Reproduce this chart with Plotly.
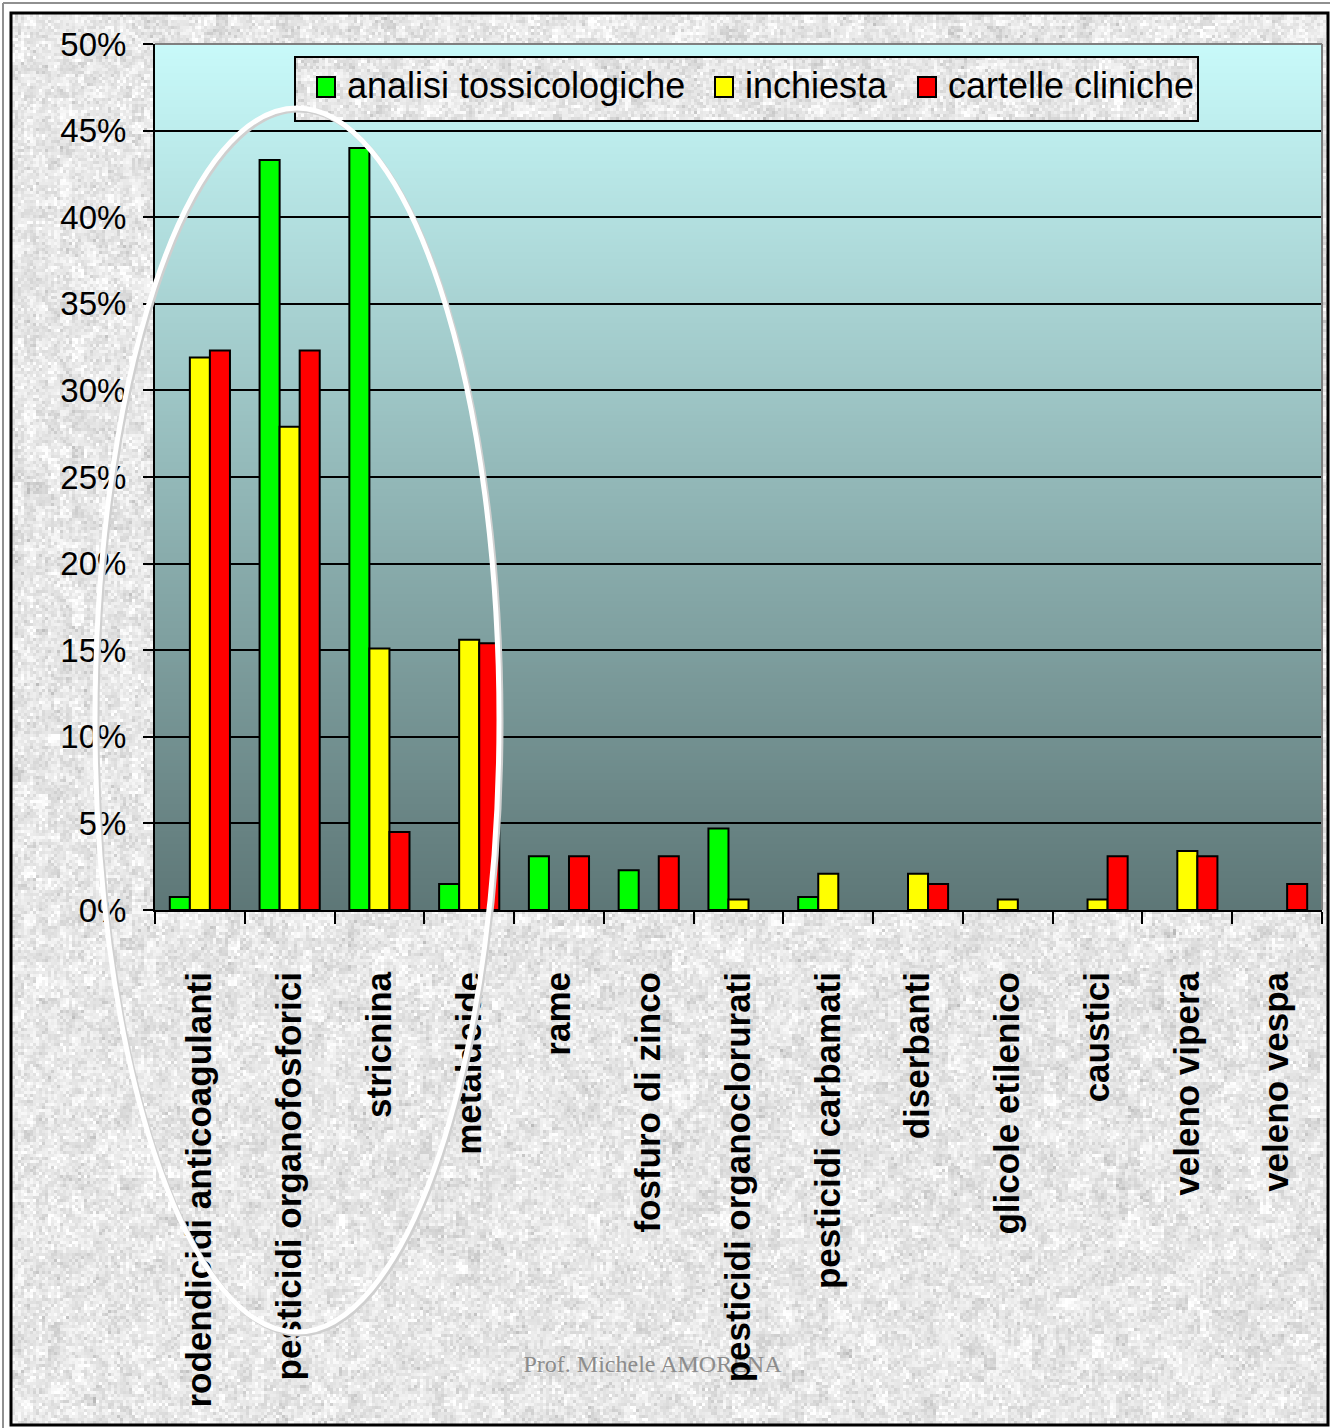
import base64
import struct
import zlib

import numpy as np
import plotly.graph_objects as go

# ---- data (percent of cases per toxic agent, by source) ----
categories = [
    "rodendicidi anticoagulanti", "pesticidi organofosforici", "stricnina",
    "metaldeide", "rame", "fosfuro di zinco", "pesticidi organoclorurati",
    "pesticidi carbamati", "diserbanti", "glicole etilenico", "caustici",
    "veleno vipera", "veleno vespa",
]
analisi_tossicologiche = [0.75, 43.3, 44.0, 1.5, 3.1, 2.3, 4.7, 0.75, 0, 0, 0, 0, 0]
inchiesta = [31.9, 27.9, 15.1, 15.6, 0, 0, 0.6, 2.1, 2.1, 0.6, 0.6, 3.4, 0]
cartelle_cliniche = [32.3, 32.3, 4.5, 15.4, 3.1, 3.1, 0, 0, 1.5, 0, 3.1, 3.1, 1.5]
series_names = ["analisi tossicologiche", "inchiesta", "cartelle cliniche"]
y_ticks = [0, 5, 10, 15, 20, 25, 30, 35, 40, 45, 50]

W, H = 1330, 1428
PL, PR, PT, PB = 155, 1322, 44, 910  # plot area in page pixels


def px(x):
    return (x - PL) / (PR - PL)


def py(y):
    return (PB - y) / (PB - PT)


def png_uri(arr):
    arr = np.ascontiguousarray(arr, dtype=np.uint8)
    h, w = arr.shape[:2]
    ctype = 0 if arr.ndim == 2 else 2
    raw = b"".join(b"\x00" + arr[i].tobytes() for i in range(h))

    def chunk(tag, data):
        c = struct.pack(">I", len(data)) + tag + data
        return c + struct.pack(">I", zlib.crc32(tag + data) & 0xFFFFFFFF)

    png = (b"\x89PNG\r\n\x1a\n"
           + chunk(b"IHDR", struct.pack(">IIBBBBB", w, h, 8, ctype, 0, 0, 0))
           + chunk(b"IDAT", zlib.compress(raw, 9))
           + chunk(b"IEND", b""))
    return "data:image/png;base64," + base64.b64encode(png).decode()


def granite(w, h, seed, cell=3):
    rng = np.random.default_rng(seed)
    sw, sh = w // cell + 1, h // cell + 1
    fine = rng.normal(0, 1, (sh, sw))
    coarse = rng.normal(0, 1, (sh // 4 + 2, sw // 4 + 2))
    coarse = np.kron(coarse, np.ones((4, 4)))[:sh, :sw]
    g = 232 + 10 * fine + 6 * coarse
    g = np.clip(g, 180, 255)
    g = np.kron(g, np.ones((cell, cell)))[:h, :w]
    return g.astype(np.uint8)


# textured page background and legend box
page_tex = png_uri(granite(1316, 1411, 3))
legend_tex = png_uri(granite(903, 64, 11))

# vertical gradient for the plot area: light cyan -> dark slate
top_c = np.array([200, 250, 250], dtype=float)
bot_c = np.array([94, 119, 119], dtype=float)
t = np.linspace(0, 1, 256)[:, None]
grad = (top_c * (1 - t) + bot_c * t)
grad = np.repeat(grad[:, None, :], 2, axis=1).round()
grad_uri = png_uri(grad)

colors = ["#00ff00", "#ffff00", "#ff0000"]
values = [analisi_tossicologiche, inchiesta, cartelle_cliniche]

fig = go.Figure()
for name, vals, col in zip(series_names, values, colors):
    fig.add_trace(go.Bar(
        x=categories, y=[v if v > 0 else None for v in vals], name=name,
        marker=dict(color=col, line=dict(color="black", width=2)),
        showlegend=False,
    ))

fig.update_layout(
    width=W, height=H,
    margin=dict(l=PL, r=W - PR, t=PT, b=H - PB, pad=0),
    paper_bgcolor="white",
    plot_bgcolor="rgba(0,0,0,0)",
    barmode="group", bargap=0.33, bargroupgap=0,
    font=dict(family="Liberation Sans, Arial", color="black"),
    images=[
        dict(source=page_tex, xref="paper", yref="paper",
             x=px(12), y=py(14), sizex=1316 / (PR - PL), sizey=1411 / (PB - PT),
             xanchor="left", yanchor="top", sizing="stretch", layer="below"),
        dict(source=grad_uri, xref="paper", yref="paper",
             x=0, y=1, sizex=1, sizey=1, xanchor="left", yanchor="top",
             sizing="stretch", layer="below"),
        dict(source=legend_tex, xref="paper", yref="paper",
             x=px(295), y=py(57), sizex=903 / (PR - PL), sizey=64 / (PB - PT),
             xanchor="left", yanchor="top", sizing="stretch", layer="above"),
    ],
)

fig.update_yaxes(
    range=[0, 50], tickvals=y_ticks, ticktext=[f"{v}%" for v in y_ticks],
    showgrid=True, gridcolor="black", gridwidth=2,
    showline=True, linecolor="black", linewidth=2,
    ticks="outside", ticklen=10, tickwidth=2, tickcolor="black",
    tickfont=dict(size=33, family="Liberation Sans, Arial", color="black"),
    ticklabelstandoff=10, zeroline=False, fixedrange=True,
)
fig.update_xaxes(
    type="category", tickangle=-90, tickson="boundaries",
    showgrid=False, showline=True, linecolor="black", linewidth=2,
    ticks="outside", ticklen=12, tickwidth=2, tickcolor="black",
    tickfont=dict(size=35, family="Liberation Sans, Arial", color="black",
                  weight="bold"),
    ticklabelstandoff=46, fixedrange=True,
)

shapes = []
annotations = []
# outer frame
shapes.append(dict(type="line", xref="paper", yref="paper",
                   x0=px(3), x1=px(W + 5), y0=py(3), y1=py(3),
                   line=dict(color="#909090", width=2), layer="above"))
shapes.append(dict(type="line", xref="paper", yref="paper",
                   x0=px(3), x1=px(3), y0=py(3), y1=py(H + 5),
                   line=dict(color="#909090", width=2), layer="above"))
shapes.append(dict(type="rect", xref="paper", yref="paper",
                   x0=px(11), x1=px(1328), y0=py(13), y1=py(1425),
                   line=dict(color="black", width=3), layer="above"))
# grey top and right border of the plot area
shapes.append(dict(type="line", xref="paper", yref="paper",
                   x0=0, x1=1, y0=1, y1=1,
                   line=dict(color="#7f7f7f", width=2), layer="above"))
shapes.append(dict(type="line", xref="paper", yref="paper",
                   x0=1, x1=1, y0=0, y1=1,
                   line=dict(color="#7f7f7f", width=2), layer="above"))
# legend box with one swatch + label per series
shapes.append(dict(type="rect", xref="paper", yref="paper",
                   x0=px(295), x1=px(1198), y0=py(57), y1=py(121),
                   line=dict(color="black", width=2), layer="above"))
swatch_x = [317, 715, 918]
for name, col, sx in zip(series_names, colors, swatch_x):
    shapes.append(dict(type="rect", xref="paper", yref="paper",
                       x0=px(sx), x1=px(sx + 18), y0=py(77), y1=py(97),
                       fillcolor=col, line=dict(color="black", width=2),
                       layer="above"))
    annotations.append(dict(text=name, xref="paper", yref="paper",
                            x=px(sx + 28), y=py(86), xanchor="left",
                            yanchor="middle", showarrow=False,
                            font=dict(size=36, family="Liberation Sans, Arial",
                                      color="black")))
# highlight ellipse around the main agents
cx, cy, rx, ry = 297, 720, 202, 612
shapes.append(dict(type="circle", xref="paper", yref="paper",
                   x0=px(cx - rx + 2), x1=px(cx + rx + 2),
                   y0=py(cy - ry + 2), y1=py(cy + ry + 2),
                   line=dict(color="#cfcfcf", width=5), layer="above"))
shapes.append(dict(type="circle", xref="paper", yref="paper",
                   x0=px(cx - rx), x1=px(cx + rx),
                   y0=py(cy - ry), y1=py(cy + ry),
                   line=dict(color="white", width=5), layer="above"))
# author footer, beneath the category labels
shapes.append(dict(type="rect", xref="paper", yref="paper",
                   x0=px(500), x1=px(805), y0=py(1348), y1=py(1374),
                   line=dict(width=0), fillcolor="rgba(0,0,0,0)", layer="below",
                   label=dict(text="Prof. Michele AMORENA",
                              textposition="middle center",
                              font=dict(family="Liberation Serif, Times New Roman",
                                        size=24, color="#8c8c8c"))))
fig.update_layout(shapes=shapes, annotations=annotations, showlegend=False)

fig.write_html("out.html")
